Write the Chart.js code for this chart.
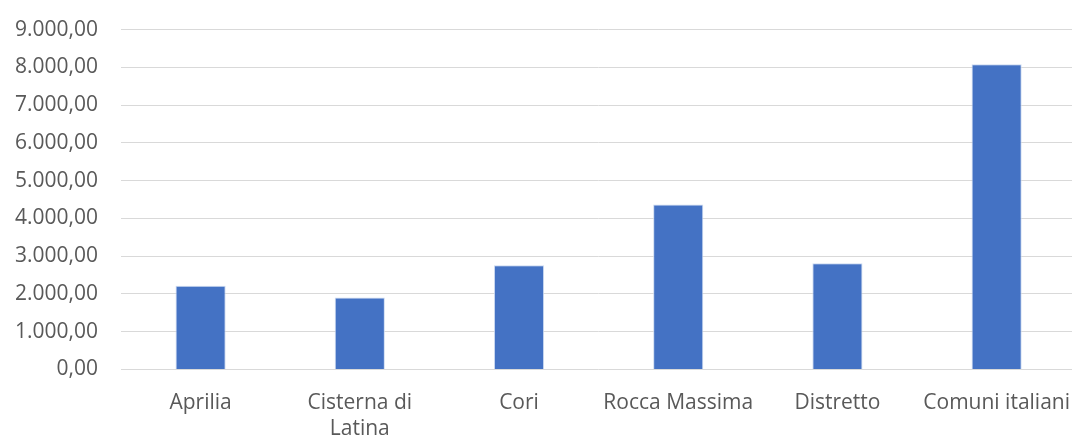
<!DOCTYPE html>
<html>
<head>
<meta charset="utf-8">
<script src="https://cdn.jsdelivr.net/npm/chart.js@4/dist/chart.umd.min.js"></script>
<style>
    html, body { margin: 0; padding: 0; background: #fff; overflow: hidden; }
    /* canvas a bit larger than the window so the plot area lands where the reference has it */
    #wrap { width: 1090px; height: 468px; margin-top: -6px; }
</style>
</head>
<body>
<div id="wrap"><canvas id="bar_chart"></canvas></div>
<script>
const categories = ["Aprilia", ["Cisterna di", "Latina"], "Cori", "Rocca Massima", "Distretto", "Comuni italiani"];
const values = [2215, 1906, 2760, 4367, 2814, 8081];
const yTicks = [0, 1000, 2000, 3000, 4000, 5000, 6000, 7000, 8000, 9000];

function formatIt(v) {
    return v.toLocaleString("it-IT", { minimumFractionDigits: 2, maximumFractionDigits: 2, useGrouping: "always" });
}

function createBarChart() {
    let chart = document.getElementById("bar_chart");
    const data = {
        labels: categories,
        datasets: [{
            data: values,
            backgroundColor: '#4472C4',
            borderColor: 'rgba(200, 215, 240, 0.9)',
            borderWidth: 1,
            categoryPercentage: 1,
            barPercentage: 0.315
        }]
    };

    const config = {
        type: 'bar',
        data: data,
        options: {
            responsive: true,
            maintainAspectRatio: false,
            animation: false,
            layout: {
                padding: { top: 0, right: 0, left: -8, bottom: 0 }
            },
            plugins: {
                legend: { display: false },
                tooltip: { enabled: false }
            },
            scales: {
                x: {
                    grid: { display: false, drawTicks: false },
                    border: { display: false },
                    ticks: {
                        color: '#595959',
                        font: { family: "'Open Sans'", size: 21, lineHeight: 1.25 },
                        padding: 20,
                        maxRotation: 0,
                        autoSkip: false
                    }
                },
                y: {
                    min: 0,
                    max: 9000,
                    afterBuildTicks: function (axis) {
                        axis.ticks = yTicks.map(v => ({ value: v }));
                    },
                    grid: { color: '#d9d9d9', lineWidth: 1, drawTicks: false },
                    border: { display: false },
                    ticks: {
                        color: '#595959',
                        font: { family: "'Open Sans'", size: 21 },
                        padding: 23,
                        callback: function (v) { return formatIt(v); }
                    }
                }
            }
        }
    };

    const myChart = new Chart(chart, config);
}

createBarChart();
</script>
</body>
</html>
